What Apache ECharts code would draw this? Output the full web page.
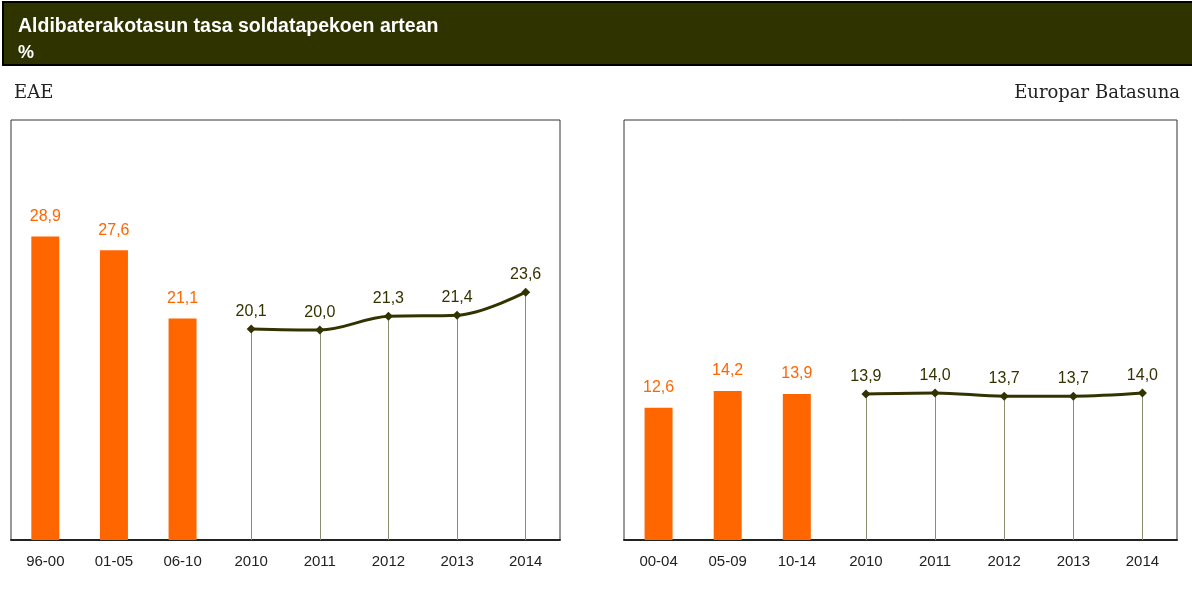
<!DOCTYPE html>
<html><head><meta charset="utf-8">
<script src="https://cdn.jsdelivr.net/npm/echarts@6/dist/echarts.min.js"></script>
<style>html,body{margin:0;padding:0;background:#fff}#c{width:1192px;height:589px}</style>
</head><body><div id="c"></div>
<script>
const titleText = 'Aldibaterakotasun tasa soldatapekoen artean';
const unitText = '%';
const leftName = 'EAE';
const rightName = 'Europar Batasuna';
const leftCategories = ['96-00','01-05','06-10','2010','2011','2012','2013','2014'];
const leftPeriodAvg = [28.9, 27.6, 21.1, null, null, null, null, null];
const leftAnnual = [null, null, null, 20.1, 20.0, 21.3, 21.4, 23.6];
const rightCategories = ['00-04','05-09','10-14','2010','2011','2012','2013','2014'];
const rightPeriodAvg = [12.6, 14.2, 13.9, null, null, null, null, null];
const rightAnnual = [null, null, null, 13.9, 14.0, 13.7, 13.7, 14.0];

const ORANGE = '#FF6600', OLIVE = '#333300';
const narrow = '"Liberation Sans Narrow","Arial Narrow","Liberation Sans",Arial,sans-serif';
const fmt = p => (p.value == null ? '' : Number(p.value).toFixed(1).replace('.', ','));
const toData = a => a.map(v => v == null ? '-' : v);

function drops(arr){
  const out = [];
  arr.forEach((v,i)=>{ if(v!=null) out.push([{coord:[i,0]},{coord:[i,v]}]); });
  return out;
}

const grids = [
  {left:11, right:632, top:120, bottom:49},
  {left:624, right:15, top:120, bottom:49}
];
const cats = [leftCategories, rightCategories];
const bars = [leftPeriodAvg, rightPeriodAvg];
const lines = [leftAnnual, rightAnnual];

const option = {
  animation:false,
  backgroundColor:'#fff',
  graphic:[
    {type:'rect', shape:{x:3,y:2,width:1195,height:63}, style:{fill:'#2E3300', stroke:'#000', lineWidth:2}},
    {type:'text', left:18, top:17, style:{text:titleText, fill:'#fff', font:'bold 19.5px "Liberation Sans",Arial,sans-serif'}},
    {type:'text', left:18, top:44, style:{text:unitText, fill:'#fff', font:'bold 18px "Liberation Sans",Arial,sans-serif'}},
    {type:'text', left:14, top:84, style:{text:leftName, fill:'#222', font:'18px "DejaVu Serif","Liberation Serif",serif'}},
    {type:'text', right:12, top:84, style:{text:rightName, fill:'#222', font:'18px "DejaVu Serif","Liberation Serif",serif'}}
  ],
  grid: grids.map(g=>Object.assign({show:true, borderColor:'#333', borderWidth:1, backgroundColor:'#fff'}, g)),
  xAxis: cats.map((c,i)=>({
    type:'category', gridIndex:i, data:c,
    axisLine:{lineStyle:{color:'#222', width:2}},
    axisTick:{inside:true, length:5, lineStyle:{color:'#222'}},
    axisLabel:{color:'#222', fontFamily:narrow, fontSize:15, margin:14}
  })),
  yAxis: [0,1].map(i=>({type:'value', gridIndex:i, min:0, max:40, show:false, splitLine:{show:false}})),
  series: []
};
[0,1].forEach(i=>{
  option.series.push({
    type:'bar', xAxisIndex:i, yAxisIndex:i, data:toData(bars[i]), barWidth:28,
    itemStyle:{color:ORANGE},
    label:{show:true, position:'top', distance:12, color:ORANGE, fontFamily:narrow, fontSize:16, formatter:fmt}
  });
  option.series.push({
    type:'line', xAxisIndex:i, yAxisIndex:i, data:toData(lines[i]), smooth:0.35,
    symbol:'diamond', symbolSize:9, z:5,
    lineStyle:{color:OLIVE, width:3}, itemStyle:{color:OLIVE},
    label:{show:true, position:'top', distance:5, color:OLIVE, fontFamily:narrow, fontSize:16, formatter:fmt},
    markLine:{silent:true, symbol:'none', label:{show:false}, z:1,
      lineStyle:{color:'#8C8C70', width:1, type:'solid'}, data:drops(lines[i])}
  });
});
echarts.init(document.getElementById('c')).setOption(option);
</script></body></html>
